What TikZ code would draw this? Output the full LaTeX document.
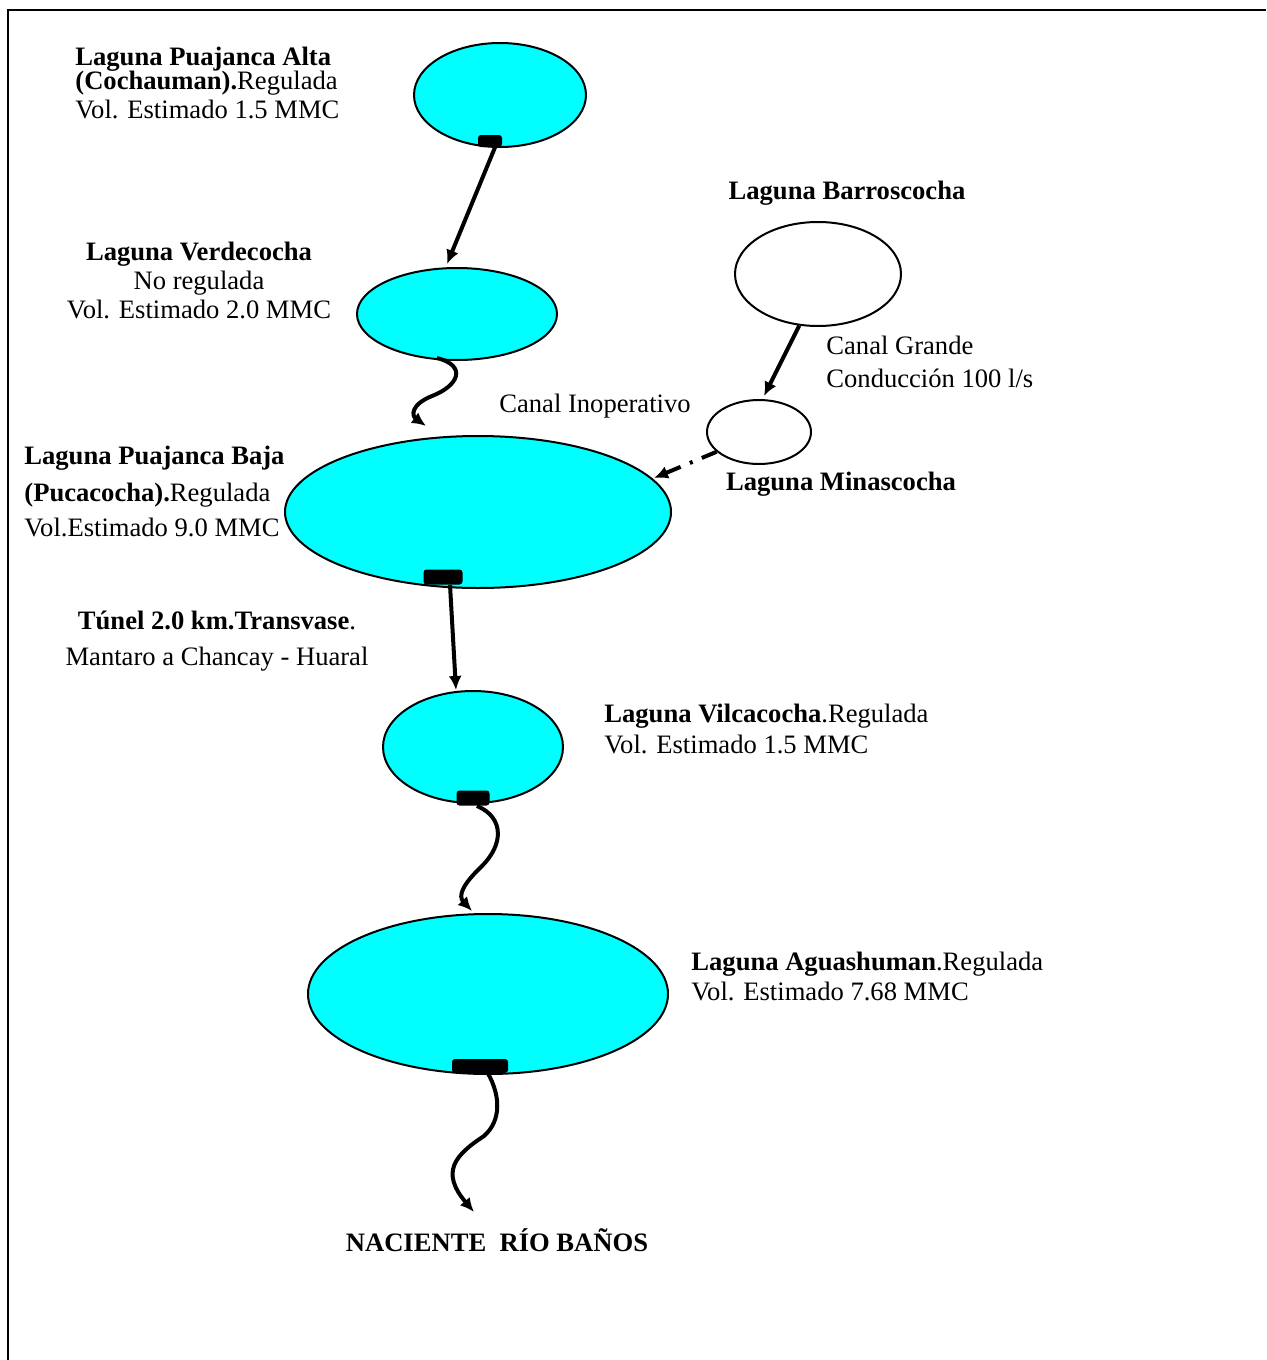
\documentclass[tikz,border=0pt]{standalone}
\usepackage{fontspec}
\setmainfont{Liberation Serif}
\usetikzlibrary{shapes.geometric, arrows.meta}

\definecolor{lakecyan}{RGB}{0,255,255}

\tikzset{
  lake/.style={ellipse, draw, line width=1pt, fill=lakecyan, inner sep=0pt},
  pond/.style={ellipse, draw, line width=1pt, fill=white, inner sep=0pt},
  gate/.style={rectangle, fill=black, rounded corners=1.5pt, inner sep=0pt},
  txt/.style={inner sep=0pt, font=\fontsize{13.3}{14.5}\selectfont},
  flow/.style={-{Latex[length=7pt, width=6.5pt]}, line width=2pt},
}

\begin{document}
\begin{tikzpicture}[x=0.5pt, y=-0.5pt]
        \useasboundingbox (0,0) rectangle (1266,1360);
        \draw[line width=1pt] (8,1360) -- (8,10) -- (1266,10);

        % Define nodes
        \node[lake, minimum width=86pt, minimum height=52pt] (A) at (500,95) {};
        \node[lake, minimum width=100pt, minimum height=46pt] (B) at (457,314) {};
        \node[pond, minimum width=83pt, minimum height=52pt] (C) at (818,274) {};
        \node[pond, minimum width=52pt, minimum height=32pt] (D) at (759,432) {};
        \node[lake, minimum width=193pt, minimum height=76pt] (E) at (478,512) {};
        \node[lake, minimum width=90pt, minimum height=56pt] (F) at (473,747) {};
        \node[lake, minimum width=180pt, minimum height=80pt] (G) at (488,994) {};

        \node[gate, minimum width=12pt, minimum height=6pt] (gA) at (490,141) {};
        \node[gate, minimum width=19.5pt, minimum height=7.5pt] (gE) at (443,577) {};
        \node[gate, minimum width=16.5pt, minimum height=7.5pt] (gF) at (473,798) {};
        \node[gate, minimum width=28pt, minimum height=7pt] (gG) at (480,1066) {};

        % Labels
        \node[txt, anchor=west, align=left] (tA) at (75,83)
          {\textbf{Laguna Puajanca Alta}\\[-2.5pt]\textbf{(Cochauman).}Regulada\\Vol. Estimado 1.5 MMC};
        \node[txt, align=center] (tB) at (199,280)
          {\textbf{Laguna Verdecocha}\\No regulada\\Vol. Estimado 2.0 MMC};
        \node[txt] (tC) at (847,193) {\textbf{Laguna Barroscocha}};
        \node[txt, anchor=west, align=left] (tCG) at (826,362)
          {Canal Grande\\[2pt]Conducción 100 l/s};
        \node[txt] (tI) at (595,406) {Canal Inoperativo};
        \node[txt] (tD) at (841,484) {\textbf{Laguna Minascocha}};
        \node[txt, anchor=west, align=left] (tE) at (24,491)
          {\textbf{Laguna Puajanca Baja}\\[4pt]\textbf{(Pucacocha).}Regulada\\[3pt]Vol.Estimado 9.0 MMC};
        \node[txt, align=center] (tT) at (217,641)
          {\textbf{Túnel 2.0 km.Transvase}.\\[3.5pt]Mantaro a Chancay - Huaral};
        \node[txt, anchor=west, align=left] (tF) at (604,729)
          {\textbf{Laguna Vilcacocha}.Regulada\\[1pt]Vol. Estimado 1.5 MMC};
        \node[txt, anchor=west, align=left] (tG) at (691,976)
          {\textbf{Laguna Aguashuman}.Regulada\\[0.5pt]Vol. Estimado 7.68 MMC};
        \node[txt] (tH) at (497,1240) {\textbf{NACIENTE\ \ RÍO BAÑOS}};

        % Free ends of the connectors
        \coordinate (a1) at (447,264);
        \coordinate (b0) at (437,358);
        \coordinate (b1) at (426,426);
        \coordinate (c1) at (764,396);
        \coordinate (d1) at (654,478);
        \coordinate (e1) at (456,690);
        \coordinate (f1) at (472,911);
        \coordinate (g1) at (474,1212);

        % Draw directed edges
        \draw[flow] ([xshift=2.5pt]gA.south) -- (a1);
        \draw[flow] (b0) .. controls (468,366) and (458,386) .. (432,396)
                         .. controls (410,405) and (412,416) .. (b1);
        \draw[flow] (C.250) -- (c1);
        \draw[flow, dash pattern=on 8pt off 5pt on 1.5pt off 5pt] (D.205) -- (d1);
        \draw[flow] ([xshift=3.5pt]gE.south) -- (e1);
        \draw[flow] ([xshift=2pt]gF.south) .. controls (505,818) and (503,845) .. (482,866)
                         .. controls (462,885) and (458,896) .. (f1);
        \draw[flow] ([xshift=4pt]gG.south) .. controls (500,1095) and (502,1120) .. (484,1136)
                         .. controls (455,1155) and (440,1172) .. (g1);
    \end{tikzpicture}
\end{document}
